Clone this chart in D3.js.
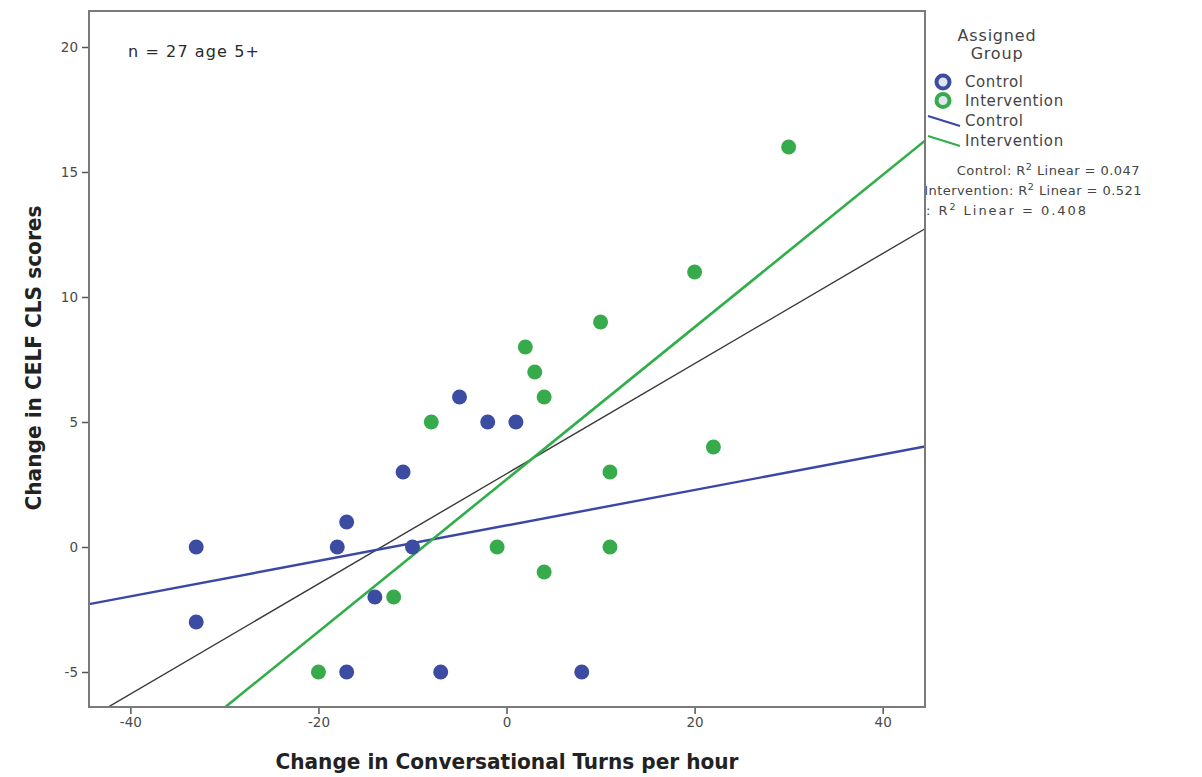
<!DOCTYPE html>
<html>
<head>
<meta charset="utf-8">
<script src="https://cdn.jsdelivr.net/npm/d3@7"></script>
<style>
  body { margin: 0; background: #fff; }
  svg { display: block; font-family: "DejaVu Sans", sans-serif; }
</style>
</head>
<body>
<svg id="chart" width="1202" height="777"></svg>
<script>
// Change in conversational turns per hour (x) vs change in CELF CLS score (y)
const controlTurns  = [-33, -33, -18, -17, -11, -10, -14, -17, -7, -5, -2, 1, 8];
const controlScores = [  0,  -3,   0,   1,   3,   0,  -2,  -5, -5,  6,  5, 5, -5];

const interventionTurns  = [-20, -12, -8, -1, 2, 3, 4,  4, 11, 11, 10, 20, 22, 30];
const interventionScores = [ -5,  -2,  5,  0, 8, 7, 6, -1,  3,  0,  9, 11,  4, 16];

const groupNames = ["Control", "Intervention"];
const xTicks = [-40, -20, 0, 20, 40];
const yTicks = [-5, 0, 5, 10, 15, 20];
const xDomain = [-44.4, 44.5];
const yDomain = [-6.4, 21.44];

const colors = { Control: "#3b4ca2", Intervention: "#37ab4b" };
const lineColors = { Control: "#3a47a6", Intervention: "#2fae4a", Total: "#3a3a3a" };

const svg = d3.select("#chart");
const plot = { left: 89, top: 11, right: 925, bottom: 707 };

const x = d3.scaleLinear().domain(xDomain).range([plot.left, plot.right]);
const y = d3.scaleLinear().domain(yDomain).range([plot.bottom, plot.top]);

// ordinary least squares fit with R squared
function fit(xs, ys) {
  const n = xs.length;
  const mx = d3.mean(xs), my = d3.mean(ys);
  let sxy = 0, sxx = 0, syy = 0;
  for (let i = 0; i < n; i++) {
    sxy += (xs[i] - mx) * (ys[i] - my);
    sxx += (xs[i] - mx) ** 2;
    syy += (ys[i] - my) ** 2;
  }
  const slope = sxy / sxx;
  return { slope, intercept: my - slope * mx, r2: (sxy * sxy) / (sxx * syy) };
}

const fits = {
  Control: fit(controlTurns, controlScores),
  Intervention: fit(interventionTurns, interventionScores),
  Total: fit(controlTurns.concat(interventionTurns), controlScores.concat(interventionScores))
};

const defs = svg.append("defs");
defs.append("clipPath").attr("id", "plotClip")
  .append("rect")
  .attr("x", plot.left).attr("y", plot.top)
  .attr("width", plot.right - plot.left).attr("height", plot.bottom - plot.top);
defs.append("clipPath").attr("id", "legendClip")
  .append("rect")
  .attr("x", plot.right + 1).attr("y", 0)
  .attr("width", 1202 - plot.right).attr("height", 777);

// axes (plain hyphen for negatives)
const tickFmt = d => String(d);
const yAxis = d3.axisLeft(y).tickValues(yTicks).tickFormat(tickFmt).tickSize(7).tickPadding(4);
const xAxis = d3.axisBottom(x).tickValues(xTicks).tickFormat(tickFmt).tickSize(7).tickPadding(3);

const gy = svg.append("g").attr("transform", `translate(${plot.left},0)`).call(yAxis);
const gx = svg.append("g").attr("transform", `translate(0,${plot.bottom})`).call(xAxis);
[gx, gy].forEach(g => {
  g.select(".domain").remove();
  g.selectAll(".tick line").attr("stroke", "#555").attr("stroke-width", 1.5);
  g.selectAll(".tick text")
    .attr("fill", "#4a4a4a")
    .style("font-family", "DejaVu Sans, sans-serif")
    .style("font-size", "13.5px");
});

// fit lines
const fitGroup = svg.append("g").attr("clip-path", "url(#plotClip)");
const drawFit = (key, width) => {
  const f = fits[key];
  fitGroup.append("line")
    .attr("x1", x(xDomain[0])).attr("y1", y(f.intercept + f.slope * xDomain[0]))
    .attr("x2", x(xDomain[1])).attr("y2", y(f.intercept + f.slope * xDomain[1]))
    .attr("stroke", lineColors[key]).attr("stroke-width", width);
};
drawFit("Total", 1.4);
drawFit("Control", 2.4);
drawFit("Intervention", 2.6);

// points
const points = svg.append("g").attr("clip-path", "url(#plotClip)");
const addPoints = (xs, ys, group) => {
  points.selectAll(null)
    .data(xs.map((v, i) => [v, ys[i]]))
    .join("circle")
    .attr("cx", d => x(d[0]))
    .attr("cy", d => y(d[1]))
    .attr("r", 7.5)
    .attr("fill", colors[group]);
};
addPoints(controlTurns, controlScores, "Control");
addPoints(interventionTurns, interventionScores, "Intervention");

// frame
svg.append("rect")
  .attr("x", plot.left).attr("y", plot.top)
  .attr("width", plot.right - plot.left).attr("height", plot.bottom - plot.top)
  .attr("fill", "none").attr("stroke", "#7a7a7a").attr("stroke-width", 2);

// annotation
svg.append("text")
  .attr("x", 128).attr("y", 57)
  .attr("fill", "#2a2a2a").style("font-size", "16px").style("letter-spacing", "1.1px")
  .text("n = 27 age 5+");

// axis titles
svg.append("text")
  .attr("x", 507).attr("y", 769)
  .attr("text-anchor", "middle")
  .attr("textLength", 463).attr("lengthAdjust", "spacingAndGlyphs")
  .style("font-family", "DejaVu Sans Condensed, DejaVu Sans, sans-serif")
  .style("font-weight", "bold").style("font-size", "21px").attr("fill", "#222")
  .text("Change in Conversational Turns per hour");

svg.append("text")
  .attr("transform", "translate(41,358) rotate(-90)")
  .attr("text-anchor", "middle")
  .attr("textLength", 305).attr("lengthAdjust", "spacingAndGlyphs")
  .style("font-family", "DejaVu Sans Condensed, DejaVu Sans, sans-serif")
  .style("font-weight", "bold").style("font-size", "21px").attr("fill", "#222")
  .text("Change in CELF CLS scores");

// legend
const legend = svg.append("g").attr("clip-path", "url(#legendClip)")
  .style("font-size", "15px").style("letter-spacing", "0.6px").attr("fill", "#444");

legend.append("text").attr("x", 997).attr("y", 41).attr("text-anchor", "middle")
  .style("font-size", "16px").style("letter-spacing", "0.8px").text("Assigned");
legend.append("text").attr("x", 997).attr("y", 59).attr("text-anchor", "middle")
  .style("font-size", "16px").style("letter-spacing", "0.8px").text("Group");

groupNames.forEach((g, i) => {
  const cy = 82 + i * 18.5;
  legend.append("circle").attr("cx", 943).attr("cy", cy).attr("r", 6.5)
    .attr("fill", "#dfe6f0").attr("stroke", colors[g]).attr("stroke-width", 4);
  legend.append("text").attr("x", 965).attr("y", cy + 5).text(g);
});

groupNames.forEach((g, i) => {
  const cy = 121 + i * 20;
  legend.append("line")
    .attr("x1", 928).attr("y1", cy - 5).attr("x2", 960).attr("y2", cy + 5)
    .attr("stroke", lineColors[g]).attr("stroke-width", 2.2);
  legend.append("text").attr("x", 965).attr("y", cy + 5).text(g);
});

// R squared labels; the legend column clips whatever runs left of the frame
const fmt = d3.format(".3f");
const r2Rows = [
  { key: "Control", name: "Control", anchorX: 1140, y: 175 },
  { key: "Intervention", name: "Intervention", anchorX: 1142, y: 195 }
];
const r2Label = (sel, name, key) => {
  const head = sel.append("tspan").text(name);
  sel.append("tspan").text(": R");
  sel.append("tspan").attr("dy", -5).style("font-size", "9.5px").text("2");
  sel.append("tspan").attr("dy", 5).text(` Linear = ${fmt(fits[key].r2)}`);
  return head;
};
r2Rows.forEach(r => {
  const t = legend.append("text").attr("x", r.anchorX).attr("y", r.y)
    .attr("text-anchor", "end").style("font-size", "13px").style("letter-spacing", "0.45px");
  r2Label(t, r.name, r.key);
});

// total row: the group name sits behind the frame, the rest runs to x = 1088
const totalText = legend.append("text").attr("y", 215).style("font-size", "13px");
const totalHead = r2Label(totalText, "Total", "Total");
const tailWidth = s => {
  totalText.style("letter-spacing", s + "px");
  return totalText.node().getComputedTextLength() - totalHead.node().getComputedTextLength();
};
const w0 = tailWidth(0), w1 = tailWidth(1);
const wanted = 1088 - (plot.right + 1);
const spacing = Math.max(0, (wanted - w0) / (w1 - w0));
tailWidth(spacing);
totalText.attr("x", plot.right + 1 - totalHead.node().getComputedTextLength());
</script>
</body>
</html>
